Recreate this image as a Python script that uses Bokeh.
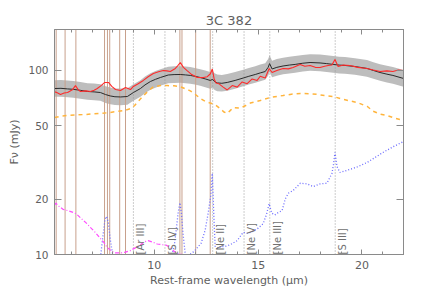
import numpy as np
from bokeh.plotting import figure
from bokeh.models import Range1d, LogAxis, LinearAxis, FixedTicker, ColumnDataSource
from bokeh.core.properties import value
from bokeh.embed import file_html
from bokeh.resources import INLINE

# ---------------- data ----------------
title_text = "3C 382"
x_label = "Rest-frame wavelength (μm)"
y_label = "Fν (mJy)"

x_ticks = [10, 15, 20]
x_minor = [6, 7, 8, 9, 11, 12, 13, 14, 16, 17, 18, 19, 21, 22]
y_ticks = [10, 20, 50, 100]

# PAH feature positions (solid brown lines)
pah_lines = [5.27, 5.70, 6.22, 7.60, 7.74, 7.85, 8.33, 8.61, 11.23, 11.33, 11.99, 12.69]
# fine-structure lines (dotted grey lines) and their names
fs_lines = [8.99, 10.51, 12.81, 14.32, 15.56, 18.71]
fs_names = ["[Ar III]", "[S IV]", "[Ne II]", "[Ne V]", "[Ne III]", "[S III]"]

# model (black line) and its relative uncertainty (grey band)
model_wl = [5.20, 5.50, 5.82, 6.10, 6.44, 6.78, 7.10, 7.40, 7.65, 7.88, 8.10, 8.37, 8.70,
            8.99, 9.33, 9.55, 9.81, 10.05, 10.29, 10.67, 10.95, 11.25, 11.50, 11.73, 11.95,
            12.21, 12.45, 12.69, 12.81, 12.90, 13.03, 13.25, 13.51, 13.89, 14.28, 14.55,
            14.86, 15.10, 15.34, 15.48, 15.55, 15.67, 15.90, 16.20, 16.50, 16.78, 17.15,
            17.50, 17.98, 18.30, 18.61, 18.90, 19.18, 19.66, 20.24, 20.55, 20.87, 21.20,
            21.49, 22.00]
model_flux = [79.8, 80.0, 79.4, 79.0, 78.0, 76.9, 76.5, 75.9, 74.0, 72.7, 72.0, 71.8, 72.2,
              75.9, 79.8, 83.5, 87.1, 89.5, 91.6, 94.5, 95.0, 95.1, 94.6, 94.0, 93.0,
              91.6, 90.0, 88.3, 89.5, 87.0, 85.6, 85.2, 86.1, 88.3, 91.0, 93.0,
              95.1, 97.0, 98.7, 104.0, 109.0, 101.9, 104.0, 105.8, 107.0, 107.9, 109.5,
              110.5, 109.9, 109.0, 107.9, 107.0, 106.5, 105.1, 102.6, 100.0, 97.5, 95.5,
              94.0, 90.5]
model_rel_err = 0.11

# observed spectrum (red)
obs_wl = [5.20, 5.30, 5.48, 5.65, 5.82, 6.05, 6.20, 6.32, 6.44, 6.70, 6.92, 7.10, 7.25, 7.45,
          7.61, 7.79, 7.95, 8.13, 8.37, 8.61, 8.85, 8.99, 9.20, 9.47, 9.70, 9.95, 10.20,
          10.43, 10.60, 10.77, 11.01, 11.12, 11.25, 11.40, 11.59, 11.80, 12.07, 12.36,
          12.55, 12.70, 12.79, 12.88, 12.97, 13.10, 13.30, 13.51, 13.75, 13.99, 14.23,
          14.47, 14.71, 14.95, 15.10, 15.34, 15.53, 15.67, 15.90, 16.20, 16.45, 16.68,
          17.02, 17.25, 17.50, 17.75, 17.98, 18.20, 18.37, 18.55, 18.70, 18.85, 19.10,
          19.42, 19.80, 20.24, 20.55, 20.87, 21.20, 21.49, 21.75, 22.00]
obs_flux = [76.5, 75.9, 74.1, 75.5, 75.9, 78.5, 82.8, 79.0, 76.9, 77.5, 76.9, 78.0, 79.8, 83.0,
            86.1, 86.1, 82.0, 78.8, 77.9, 80.9, 78.8, 81.9, 84.5, 88.3, 92.5, 96.3, 98.5,
            100.0, 99.5, 98.7, 102.6, 106.0, 110.5, 104.0, 99.5, 95.0, 91.6, 91.5,
            92.5, 96.0, 101.9, 90.0, 85.5, 84.8, 81.5, 78.4, 82.8, 81.2, 86.6,
            84.8, 90.0, 88.3, 93.0, 91.0, 102.5, 97.5, 100.0, 102.6, 102.0, 103.8,
            107.9, 105.5, 106.5, 104.0, 103.8, 105.5, 106.5, 107.0, 114.8, 105.1, 107.0,
            106.5, 104.0, 102.6, 100.5, 98.7, 99.5, 98.7, 100.5, 100.0]

# continuum component (orange dashed)
cont_wl = [5.20, 5.50, 5.82, 6.20, 6.59, 7.00, 7.40, 7.80, 8.22, 8.60, 8.85, 9.05, 9.25, 9.45,
           9.66, 9.95, 10.30, 10.63, 10.95, 11.25, 11.50, 11.73, 11.95, 12.21, 12.45, 12.69,
           12.90, 13.18, 13.35, 13.51, 13.65, 13.80, 14.14, 14.40, 14.62, 15.10, 15.58,
           16.20, 16.60, 17.03, 17.45, 17.85, 18.25, 18.62, 19.10, 19.45, 19.77, 20.26,
           20.54, 20.90, 21.22, 21.60, 22.00]
cont_flux = [55.5, 56.5, 57.0, 57.3, 57.6, 58.0, 58.4, 59.0, 59.9, 60.8, 62.0, 64.5, 68.5, 72.5,
             76.5, 81.5, 82.8, 82.8, 82.5, 81.5, 79.5, 77.5, 74.5, 70.5, 68.0, 66.5,
             65.5, 62.0, 59.5, 58.4, 60.5, 62.9, 62.5, 64.5, 66.5, 68.7, 71.3,
             73.1, 74.3, 75.0, 74.8, 74.1, 73.0, 72.2, 69.6, 68.3, 67.0, 63.7,
             60.0, 57.8, 56.9, 55.0, 53.5]

# line / hot-dust component (blue dotted)
blue_wl = [7.30, 7.42, 7.52, 7.62, 7.70, 7.78, 7.88, 7.98, 8.10, 9.50, 10.80, 10.85, 10.95,
           11.05, 11.15, 11.23, 11.30, 11.38, 11.49, 11.60, 11.75, 11.92, 12.10, 12.25, 12.45,
           12.60, 12.72, 12.79, 12.85, 12.93, 13.05, 13.20, 13.45, 13.65, 13.99, 14.28,
           14.50, 14.76, 15.00, 15.24, 15.40, 15.53, 15.65, 15.80, 16.00, 16.15, 16.31,
           16.45, 16.69, 17.03, 17.35, 17.65, 17.99, 18.31, 18.55, 18.63, 18.70, 18.80,
           18.94, 19.42, 19.80, 20.24, 20.60, 21.00, 21.50, 22.00]
blue_flux = [9.0, 10.0, 12.5, 15.5, 16.1, 15.0, 12.0, 10.2, 9.0, 8.0, 9.0, 10.0, 11.0,
             13.5, 17.0, 19.1, 17.0, 13.0, 10.0, 9.8, 10.1, 10.4, 11.0, 11.5, 13.6,
             17.0, 21.0, 27.6, 18.0, 11.0, 10.8, 11.0, 11.1, 11.3, 11.9, 13.2,
             13.0, 13.4, 13.9, 14.7, 16.5, 18.9, 16.8, 16.4, 17.0, 17.3, 20.1,
             21.5, 22.3, 24.4, 24.2, 23.4, 24.2, 24.4, 27.5, 31.0, 35.8, 30.0,
             27.9, 29.0, 30.0, 31.6, 33.5, 35.8, 38.5, 41.1]

# stellar component (magenta dash-dot)
star_wl = [5.20, 5.26, 5.40, 5.60, 5.85, 6.05, 6.25, 6.45, 6.70, 6.90, 7.15, 7.35, 7.55, 7.74,
           7.95, 8.10, 8.40, 8.60, 8.84, 9.10, 9.33, 9.50, 9.70, 9.90, 10.14, 10.40, 10.60,
           10.80, 10.95, 11.15, 11.35]
star_flux = [18.6, 19.0, 18.3, 17.6, 17.3, 17.0, 16.6, 15.8, 14.9, 14.1, 13.2, 12.4, 11.7, 10.9,
             10.4, 10.2, 10.2, 10.3, 10.5, 10.9, 11.3, 11.7, 11.9, 11.7, 11.4, 11.3, 11.2,
             10.8, 10.4, 10.1, 10.0]

# ---------------- figure ----------------
x_lo, x_hi = 5.19, 22.0
y_lo, y_hi = 10.0, 167.0
FONT_NAME = "DejaVu Sans"
TXT = "#606060"
AX = "#8a8a8a"

p = figure(width=436, height=291, x_range=Range1d(x_lo, x_hi), y_range=Range1d(y_lo, y_hi),
           y_axis_type="log", output_backend="svg", toolbar_location=None,
           min_border_left=54, min_border_right=33, min_border_top=29, min_border_bottom=37)
p.grid.visible = False
p.outline_line_color = AX
p.outline_line_width = 1
p.background_fill_color = "white"
p.border_fill_color = "white"

p.title.text = title_text
p.title.align = "center"
p.title.text_font = FONT_NAME
p.title.text_font_size = "13px"
p.title.text_font_style = "normal"
p.title.text_color = TXT
p.title.standoff = 3

xa = p.xaxis[0]
xa.ticker = FixedTicker(ticks=x_ticks, minor_ticks=x_minor)
ya = p.yaxis[0]
ya.ticker = FixedTicker(ticks=y_ticks, minor_ticks=[])
xa.axis_label = x_label
ya.axis_label = y_label
for ax in (xa, ya):
    ax.axis_line_color = AX
    ax.major_tick_line_color = AX
    ax.minor_tick_line_color = AX
    ax.major_tick_out = 0
    ax.minor_tick_out = 0
    ax.major_label_text_font = FONT_NAME
    ax.major_label_text_color = TXT
    ax.major_label_standoff = 6
    ax.axis_label_text_font = FONT_NAME
    ax.axis_label_text_font_style = "normal"
    ax.axis_label_text_font_size = "11px"
    ax.axis_label_text_color = TXT
    ax.axis_label_standoff = 2
xa.major_tick_in = 5
xa.minor_tick_in = 3
xa.major_label_text_font_size = "11px"
ya.major_tick_in = 7
ya.major_label_text_font_size = "10.5px"
ya.axis_label_standoff = 4

top = LinearAxis(ticker=FixedTicker(ticks=x_ticks, minor_ticks=x_minor),
                 major_label_overrides={t: "" for t in x_ticks})
right = LogAxis(ticker=FixedTicker(ticks=y_ticks, minor_ticks=[]),
                major_label_overrides={t: "" for t in y_ticks})
for ax, tin in ((top, 5), (right, 7)):
    ax.axis_line_color = AX
    ax.major_tick_line_color = AX
    ax.minor_tick_line_color = AX
    ax.major_tick_out = 0
    ax.minor_tick_out = 0
    ax.major_tick_in = tin
    ax.minor_tick_in = 3
    ax.major_label_standoff = 0
p.add_layout(top, "above")
p.add_layout(right, "right")

# grey uncertainty band around the model
m_flux = np.array(model_flux)
band = ColumnDataSource(dict(x=model_wl, lo=m_flux / (1 + model_rel_err), hi=m_flux * (1 + model_rel_err)))
p.varea(x="x", y1="lo", y2="hi", source=band, fill_color="#bdbdbd", fill_alpha=1.0)

# vertical feature markers
p.segment(x0=pah_lines, x1=pah_lines, y0=[y_lo] * len(pah_lines), y1=[y_hi] * len(pah_lines),
          line_color="#c8a08c", line_width=1)
p.segment(x0=fs_lines, x1=fs_lines, y0=[y_lo] * len(fs_lines), y1=[y_hi] * len(fs_lines),
          line_color="#9a9a9a", line_width=1, line_dash="1 2")

# components
p.line(cont_wl, cont_flux, line_color="#ffb43c", line_width=1.5, line_dash="4 4")
p.line(blue_wl, blue_flux, line_color="#6b6bff", line_width=1.3, line_dash="1 2")
p.line(star_wl, star_flux, line_color="#ff4cff", line_width=1.2, line_dash="4 2 1 2")
p.line(model_wl, model_flux, line_color="#2a2a2a", line_width=1)
p.line(obs_wl, obs_flux, line_color="#ff2a2a", line_width=1.1)

# line names
p.text(x=fs_lines, y=[y_lo] * len(fs_lines), text=fs_names, angle=np.pi / 2,
       text_align="left", text_baseline="middle", x_offset=7.5,
       text_font=value(FONT_NAME), text_font_size="10px", text_color="#707070")

open("out.html", "w").write(file_html(p, INLINE))
